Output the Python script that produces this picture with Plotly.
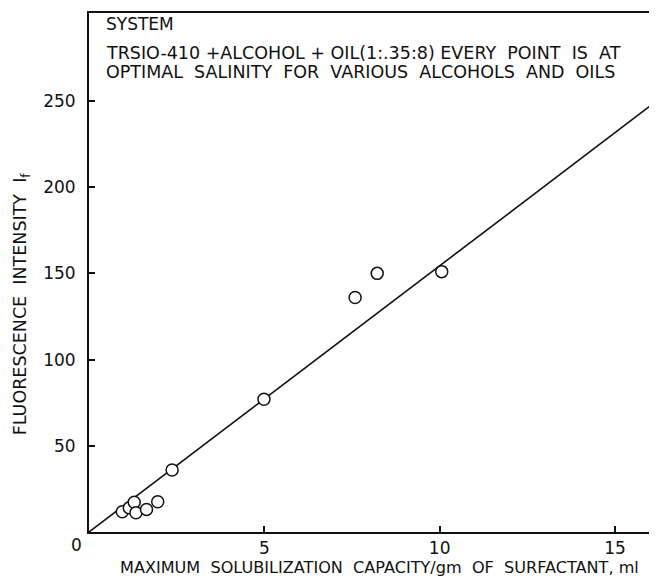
import plotly.graph_objects as go

# Data
cap_x = [0.95, 1.15, 1.29, 1.34, 1.64, 1.96, 2.37, 4.99, 7.59, 8.22, 10.06]
intensity_y = [11.7, 14.0, 17.3, 11.2, 13.1, 17.5, 36.0, 77.0, 136.0, 150.0, 151.0]
fit_x = [0, 16]
fit_y = [0, 247]
x_ticks = [5, 10, 15]
y_ticks = [50, 100, 150, 200, 250]

FONT = "DejaVu Sans"
INK = "#111111"

fig = go.Figure()
fig.add_trace(go.Scatter(x=fit_x, y=fit_y, mode="lines",
                         line=dict(color=INK, width=1.6), showlegend=False,
                         hoverinfo="skip"))
fig.add_trace(go.Scatter(x=cap_x, y=intensity_y, mode="markers",
                         marker=dict(symbol="circle", size=12, color="white",
                                     line=dict(color=INK, width=1.5)),
                         showlegend=False))

# page body has an 8px margin, so the figure is shrunk/shifted accordingly
fig.update_layout(
    width=649, height=569,
    margin=dict(l=81, r=7, t=3, b=45),
    paper_bgcolor="white", plot_bgcolor="white",
    font=dict(family=FONT, color=INK, size=17),
    xaxis=dict(range=[0, 16], tickvals=x_ticks, ticks="inside", ticklen=6,
               tickwidth=1.5, tickcolor=INK, showline=True, linecolor=INK,
               linewidth=2, mirror=True, showgrid=False, zeroline=False,
               tickfont=dict(size=17, family=FONT), ticklabelstandoff=0),
    yaxis=dict(range=[0, 301], tickvals=y_ticks, ticks="inside", ticklen=6,
               tickwidth=1.5, tickcolor=INK, showline=True, linecolor=INK,
               linewidth=2, mirror=True, showgrid=False, zeroline=False,
               tickfont=dict(size=17, family=FONT), ticklabelstandoff=8),
)

# corner "0" label
fig.add_annotation(text="0", xref="paper", yref="paper", x=-0.023, y=-0.025,
                   xanchor="center", yanchor="middle", showarrow=False,
                   font=dict(size=17, family=FONT, color=INK))

# x-axis title
fig.add_annotation(text="MAXIMUM  SOLUBILIZATION  CAPACITY/gm  OF  SURFACTANT, ml",
                   xref="paper", yref="paper", x=0.052, y=-0.069,
                   xanchor="left", yanchor="middle", showarrow=False,
                   font=dict(size=16.1, family=FONT, color=INK))

# y-axis title
fig.add_annotation(text="FLUORESCENCE  INTENSITY  I<sub>f</sub>",
                   xref="paper", yref="paper", x=-0.12, y=0.44,
                   xanchor="center", yanchor="middle", textangle=-90,
                   showarrow=False, font=dict(size=17.5, family=FONT, color=INK))

# in-plot text
fig.add_annotation(text="SYSTEM", xref="paper", yref="paper", x=0.027, y=0.978,
                   xanchor="left", yanchor="middle", showarrow=False,
                   font=dict(size=17, family=FONT, color=INK))
fig.add_annotation(text="TRSIO-410 +ALCOHOL + OIL(1:.35:8) EVERY  POINT  IS  AT",
                   xref="paper", yref="paper", x=0.027, y=0.923,
                   xanchor="left", yanchor="middle", showarrow=False,
                   font=dict(size=17.5, family=FONT, color=INK))
fig.add_annotation(text="OPTIMAL  SALINITY  FOR  VARIOUS  ALCOHOLS  AND  OILS",
                   xref="paper", yref="paper", x=0.027, y=0.886,
                   xanchor="left", yanchor="middle", showarrow=False,
                   font=dict(size=17.5, family=FONT, color=INK))

fig.write_html("out.html")
